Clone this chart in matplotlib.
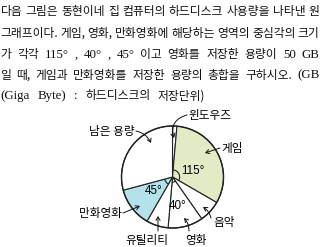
import matplotlib
matplotlib.use("Agg")
import matplotlib.pyplot as plt
from matplotlib.patches import Arc, Circle
import numpy as np

# Disk usage by category (central angles, degrees), clockwise from 12 o'clock
categories = ["윈도우즈", "게임", "음악", "영화", "유틸리티", "만화영화", "남은 용량"]
angles = [5, 115, 25, 40, 25, 45, 105]
fills = ["white", "#e1ebc6", "white", "white", "white", "#b3e2ea", "white"]
marked = {"게임": "115°", "영화": "40°", "만화영화": "45°"}

question = [
    "다음 그림은 동현이네 집 컴퓨터의 하드디스크 사용량을 나타낸 원",
    "그래프이다. 게임, 영화, 만화영화에 해당하는 영역의 중심각의 크기",
    "가 각각 115° , 40° , 45° 이고 영화를 저장한 용량이 50 GB",
    "일 때, 게임과 만화영화를 저장한 용량의 총합을 구하시오. (GB",
    "(Giga Byte) : 하드디스크의 저장단위)",
]

W, H = 320, 247
CX, CY, R = 172.5, 177.0, 51.0

fig = plt.figure(figsize=(W / 100, H / 100), dpi=100)
fig.patch.set_facecolor("white")
ax = fig.add_axes([0, 0, 1, 1])
ax.axis("off")


def px(x, y):
    """Pixel position (from top-left) to pie data coordinates."""
    return (x - CX) / R, (CY - y) / R


edge = "#222222"
ax.pie(angles, colors=fills, startangle=90, counterclock=False, radius=1.0,
       wedgeprops=dict(edgecolor=edge, linewidth=0.8))
ax.add_patch(Circle((0, 0), 1.0, fill=False, edgecolor=edge, linewidth=1.0))
ax.set_aspect("auto")
ax.set_xlim(-CX / R, (W - CX) / R)
ax.set_ylim(-(H - CY) / R, CY / R)

# Angle arcs for the marked sectors
cum = np.concatenate([[0], np.cumsum(angles)])
arc_r = {"게임": 0.14, "영화": 0.1, "만화영화": 0.16}
for i, name in enumerate(categories):
    if name in marked:
        a0, a1 = cum[i], cum[i + 1]
        t1, t2 = 90 - a1, 90 - a0
        r = arc_r[name]
        ax.add_patch(Arc((0, 0), 2 * r, 2 * r, theta1=t1, theta2=t2,
                         color=edge, linewidth=0.8))

deg_pos = {"게임": (193, 171), "만화영화": (154, 191), "영화": (178, 206)}
for name, lab in marked.items():
    ax.text(*px(*deg_pos[name]), lab, ha="center", va="center",
            fontsize=8.4, family=["Liberation Sans", "DejaVu Sans"], color="#000")

# Category labels with leader lines
label_font = dict(fontsize=8.4, family=["Noto Sans CJK KR", "DejaVu Sans"], color="#000")
labels = {
    "윈도우즈": ((188, 115), "left", (187, 115), (174, 138), 0.5),
    "게임": ((221, 148), "left", (220, 148), (205, 153), 0.0),
    "남은 용량": ((135, 131), "right", (136, 131), (151, 143), -0.25),
    "만화영화": ((122, 213), "right", (123, 213), (140, 206), 0.0),
    "음악": ((213, 222), "left", (211, 218), (203, 207), 0.2),
    "유틸리티": ((147, 240), "center", (158, 231), (158, 216), 0.0),
    "영화": ((196, 240), "center", (189, 231), (184, 218), 0.2),
}
for name, (tp, ha, start, tip, rad) in labels.items():
    ax.text(*px(*tp), name, ha=ha, va="center", **label_font)
    ax.annotate("", xy=px(*tip), xytext=px(*start),
                arrowprops=dict(arrowstyle="->,head_length=0.25,head_width=0.15",
                                lw=0.7, color="#111", shrinkA=0, shrinkB=0,
                                connectionstyle=f"arc3,rad={rad}"))

# Question text, justified across the width; Hangul words in a gothic face,
# Latin/number words in a serif face
hangul_font = dict(fontsize=8.5, family=["Noto Sans CJK KR", "DejaVu Sans"], color="#111")
latin_font = dict(fontsize=9.3, family=["Liberation Serif", "DejaVu Serif"], color="#111")


def has_hangul(s):
    return any("\uac00" <= c <= "\ud7a3" for c in s)


renderer = fig.canvas.get_renderer()
line_y = [10.5, 31.5, 53, 74, 94.5]
line_w = [319, 319, 319, 319, 205]
for line, y, width in zip(question, line_y, line_w):
    words = line.split(" ")
    items = [fig.text(0, 1 - y / H, w, ha="left", va="center_baseline",
                      **(hangul_font if has_hangul(w) else latin_font))
             for w in words]
    widths = [t.get_window_extent(renderer).width for t in items]
    gap = (width - sum(widths)) / max(len(words) - 1, 1)
    x = 0.5
    for t, wd in zip(items, widths):
        t.set_x(x / W)
        x += wd + gap

fig.savefig("out.png", dpi=100, facecolor="white")
